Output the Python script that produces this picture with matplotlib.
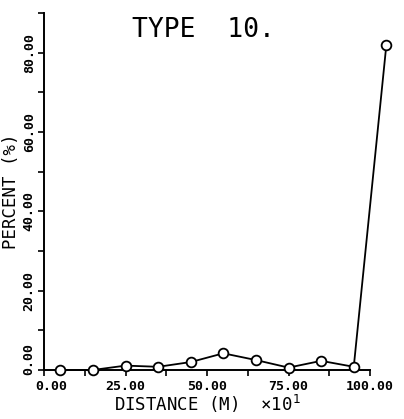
import matplotlib
matplotlib.use("Agg")
import matplotlib.pyplot as plt
from matplotlib.ticker import MultipleLocator, FuncFormatter

# distance (x10 m) and percentage per bin
distance = [5, 15, 25, 35, 45, 55, 65, 75, 85, 95, 105]
percent = [0.0, 0.0, 1.1, 0.8, 2.0, 4.2, 2.5, 0.6, 2.3, 0.8, 82.0]

FONT = "DejaVu Sans Mono"
TICK_FONT = dict(fontfamily=FONT, fontsize=9.5, fontweight="bold")


def fmt_nonzero(v, pos):
    # the zero labels are placed by hand so they do not collide in the corner
    return "" if abs(v) < 1e-9 else f"{v:.2f}"


fig = plt.figure(figsize=(4.04, 4.19), dpi=100)
ax = fig.add_axes([0.109, 0.117, 0.807, 0.852])

ax.plot(distance, percent, color="black", linewidth=1.3, marker="o",
        markersize=7, markerfacecolor="white", markeredgecolor="black",
        markeredgewidth=1.3, clip_on=False, zorder=3)

ax.set_xlim(0, 100)
ax.set_ylim(0, 90)
ax.xaxis.set_major_locator(MultipleLocator(25))
ax.xaxis.set_minor_locator(MultipleLocator(12.5))
ax.yaxis.set_major_locator(MultipleLocator(20))
ax.yaxis.set_minor_locator(MultipleLocator(10))
ax.xaxis.set_major_formatter(FuncFormatter(fmt_nonzero))
ax.yaxis.set_major_formatter(FuncFormatter(fmt_nonzero))

for side in ("top", "right"):
    ax.spines[side].set_visible(False)
for side in ("left", "bottom"):
    ax.spines[side].set_linewidth(1.4)

ax.tick_params(which="both", direction="out", length=4, width=1.2)
ax.tick_params(axis="x", pad=3)
ax.tick_params(axis="y", pad=2)
for lab in ax.get_xticklabels():
    lab.set(**TICK_FONT)
for lab in ax.get_yticklabels():
    lab.set(**TICK_FONT)
    lab.set_rotation(90)
    lab.set_va("center")

# zero labels, nudged apart
ax.annotate("0.00", xy=(0, 0), xycoords="data", xytext=(5, -7),
            textcoords="offset points", ha="center", va="top", **TICK_FONT)
ax.annotate("0.00", xy=(0, 0), xycoords="data", xytext=(-6, 8),
            textcoords="offset points", ha="right", va="center",
            rotation=90, **TICK_FONT)

ax.set_xlabel(r"DISTANCE (M)  ×10$^{1}$", fontfamily=FONT, fontsize=12.5, labelpad=0)
ax.set_ylabel("PERCENT (%)", fontfamily=FONT, fontsize=12.5, labelpad=2)

ax.text(0.49, 0.99, "TYPE  10.", transform=ax.transAxes, ha="center", va="top",
        fontfamily=FONT, fontsize=19)

fig.savefig("out.png", dpi=100)
